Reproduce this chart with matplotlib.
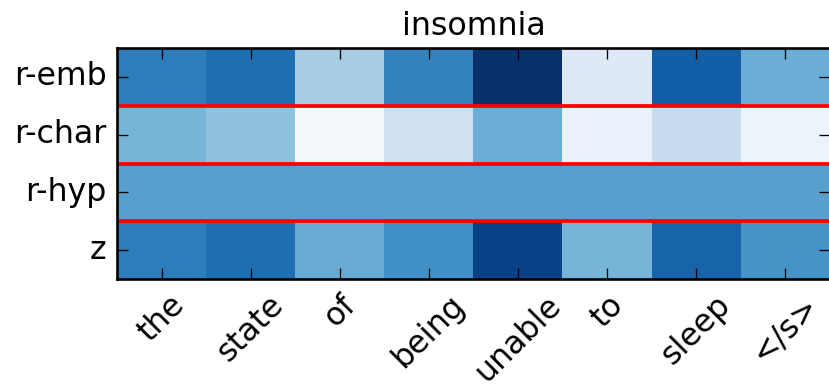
import matplotlib
matplotlib.use("Agg")
import matplotlib.pyplot as plt
import numpy as np

plt.style.use("classic")
plt.rcParams['font.family'] = ['DejaVu Sans']

title = "insomnia"
words = ["the", "state", "of", "being", "unable", "to", "sleep", "</s>"]
rows = ["r-emb", "r-char", "r-hyp", "z"]

r_emb = [0.70, 0.76, 0.35, 0.68, 1.00, 0.13, 0.82, 0.50]
r_char = [0.47, 0.41, 0.02, 0.21, 0.50, 0.07, 0.24, 0.06]
r_hyp = [0.56, 0.56, 0.56, 0.56, 0.56, 0.56, 0.56, 0.56]
z_vals = [0.70, 0.76, 0.51, 0.63, 0.93, 0.47, 0.80, 0.61]

data = np.array([r_emb, r_char, r_hyp, z_vals])

DPI = 190
fig = plt.figure(figsize=(829 / DPI, 389 / DPI), facecolor="white")
ax = fig.add_axes([117 / 829, 1 - 279 / 389, (830 - 117) / 829, (279 - 48) / 389])
ax.imshow(data, cmap="Blues", vmin=0, vmax=1, aspect="auto", interpolation="nearest")
for y in np.arange(len(rows) - 1) + 0.5:
    ax.axhline(y, color="red", linewidth=1.4)

ax.set_xticks(np.arange(len(words)))
ax.set_xticklabels(words, rotation=45, ha="center")
ax.set_yticks(np.arange(len(rows)))
ax.set_yticklabels(rows)
ax.set_xlim(-0.5, len(words) - 0.5)
ax.set_ylim(len(rows) - 0.5, -0.5)
ax.set_title(title, fontsize=12)

fig.savefig("out.png", dpi=DPI, facecolor="white")
